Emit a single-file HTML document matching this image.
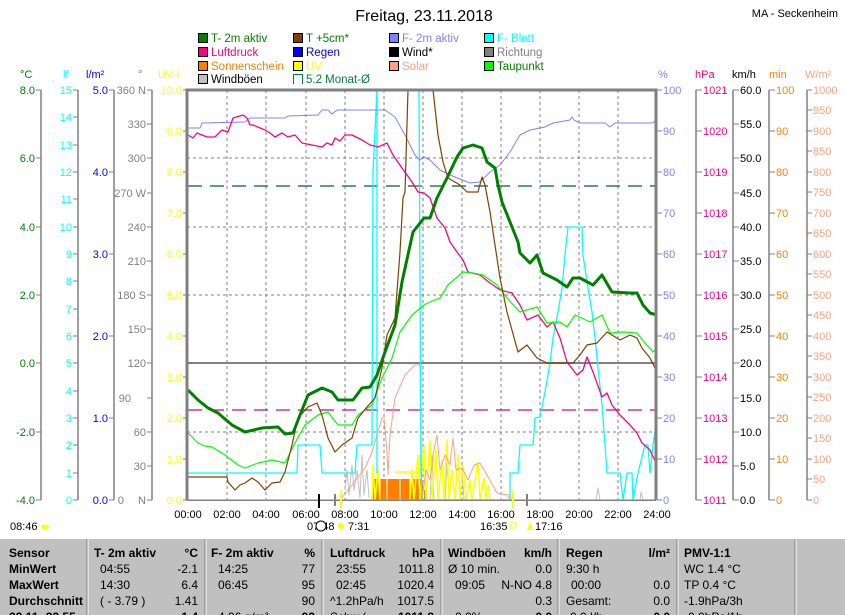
<!DOCTYPE html>
<html><head><meta charset="utf-8"><style>
html,body{margin:0;padding:0;background:#fff;width:845px;height:615px;overflow:hidden}
svg{display:block;font-family:"Liberation Sans",sans-serif}
</style></head><body>
<svg width="845" height="615" viewBox="0 0 845 615" xmlns="http://www.w3.org/2000/svg">
<rect width="845" height="615" fill="#fff"/>
<text x="424" y="21" font-size="16" text-anchor="middle" fill="#000">Freitag, 23.11.2018</text>
<text x="838" y="17" font-size="11" text-anchor="end" fill="#000">MA - Seckenheim</text>
<!-- legend -->
<g font-size="11.5">
<rect x="198.5" y="33.5" width="9" height="9" fill="#008000" stroke="#000"/><text x="211" y="42" fill="#008000">T- 2m aktiv</text>
<rect x="293.5" y="33.5" width="9" height="9" fill="#804000" stroke="#000"/><text x="306" y="42" fill="#008000">T +5cm*</text>
<rect x="389.5" y="33.5" width="9" height="9" fill="#8080ff" stroke="#000"/><text x="402" y="42" fill="#8080ff">F- 2m aktiv</text>
<rect x="484.5" y="33.5" width="9" height="9" fill="#00ffff" stroke="#000"/><text x="497" y="42" fill="#00ffff">F- Blatt</text>
<rect x="198.5" y="47.5" width="9" height="9" fill="#ff0080" stroke="#000"/><text x="211" y="56" fill="#ff0080">Luftdruck</text>
<rect x="293.5" y="47.5" width="9" height="9" fill="#0000ff" stroke="#000"/><text x="306" y="56" fill="#0000ff">Regen</text>
<rect x="389.5" y="47.5" width="9" height="9" fill="#000" stroke="#000"/><text x="402" y="56" fill="#000">Wind*</text>
<rect x="484.5" y="47.5" width="9" height="9" fill="#808080" stroke="#000"/><text x="497" y="56" fill="#808080">Richtung</text>
<rect x="198.5" y="61.5" width="9" height="9" fill="#ff8000" stroke="#000"/><text x="211" y="70" fill="#ff8000">Sonnenschein</text>
<rect x="293.5" y="61.5" width="9" height="9" fill="#ffff00" stroke="#000"/><text x="306" y="70" fill="#ffff00">UV</text>
<rect x="389.5" y="61.5" width="9" height="9" fill="#ffa080" stroke="#000"/><text x="402" y="70" fill="#ffa080">Solar</text>
<rect x="484.5" y="61.5" width="9" height="9" fill="#00ff00" stroke="#000"/><text x="497" y="70" fill="#008000">Taupunkt</text>
<rect x="198.5" y="74.5" width="9" height="9" fill="#c0c0c0" stroke="#000"/><text x="211" y="83" fill="#000">Windböen</text>
<path d="M293.5 84 V74.5 H302.5 V84" fill="none" stroke="#008040"/><text x="306" y="83" fill="#008040">5.2 Monat-Ø</text>
</g>
<!-- unit headers -->
<g font-size="11">
<text x="20" y="78" fill="#008000">°C</text>
<text x="63" y="78" fill="#00ffff">lf</text>
<text x="86" y="78" fill="#0000ff">l/m²</text>
<text x="138" y="78" fill="#808080">°</text>
<text x="158" y="78" fill="#ffff00">UV-I</text>
<text x="658" y="78" fill="#8080ff">%</text>
<text x="695" y="78" fill="#ff0080">hPa</text>
<text x="732" y="78" fill="#000">km/h</text>
<text x="769" y="78" fill="#ff8000">min</text>
<text x="805" y="78" fill="#ffa080">W/m²</text>
</g>
<!-- axis lines -->
<g stroke="#808080" stroke-width="1.5">
<line x1="41" y1="90" x2="41" y2="500"/><line x1="78" y1="90" x2="78" y2="500"/>
<line x1="114" y1="90" x2="114" y2="500"/><line x1="152" y1="90" x2="152" y2="500"/>
<line x1="696" y1="90" x2="696" y2="500"/><line x1="733" y1="90" x2="733" y2="500"/>
<line x1="769" y1="90" x2="769" y2="500"/><line x1="807" y1="90" x2="807" y2="500"/>
</g>
<g font-size="11">
<!-- °C -->
<g fill="#008000" text-anchor="end">
<text x="35" y="94">8.0</text><text x="35" y="162">6.0</text><text x="35" y="231">4.0</text><text x="35" y="299">2.0</text><text x="35" y="367">0.0</text><text x="35" y="436">-2.0</text><text x="35" y="504">-4.0</text></g>
<path stroke="#808080" d="M36 90H41M36 158H41M36 227H41M36 295H41M36 363H41M36 432H41M36 500H41"/>
<!-- lf -->
<g fill="#00ffff" text-anchor="end">
<text x="72" y="94">15</text><text x="72" y="121">14</text><text x="72" y="149">13</text><text x="72" y="176">12</text><text x="72" y="203">11</text><text x="72" y="231">10</text><text x="72" y="258">9</text><text x="72" y="285">8</text><text x="72" y="313">7</text><text x="72" y="340">6</text><text x="72" y="367">5</text><text x="72" y="395">4</text><text x="72" y="422">3</text><text x="72" y="449">2</text><text x="72" y="477">1</text><text x="72" y="504">0</text></g>
<path stroke="#808080" d="M73 90H78M73 117H78M73 145H78M73 172H78M73 199H78M73 227H78M73 254H78M73 281H78M73 309H78M73 336H78M73 363H78M73 391H78M73 418H78M73 445H78M73 473H78M73 500H78"/>
<!-- l/m2 -->
<g fill="#0000ff" text-anchor="end">
<text x="108" y="94">5.0</text><text x="108" y="176">4.0</text><text x="108" y="258">3.0</text><text x="108" y="340">2.0</text><text x="108" y="422">1.0</text><text x="108" y="504">0.0</text></g>
<path stroke="#808080" d="M109 90H114M109 172H114M109 254H114M109 336H114M109 418H114M109 500H114"/>
<!-- degrees -->
<g fill="#808080" text-anchor="end">
<text x="146" y="94">360 N</text><text x="146" y="128">330</text><text x="146" y="162">300</text><text x="146" y="197">270 W</text><text x="146" y="231">240</text><text x="146" y="265">210</text><text x="146" y="299">180 S</text><text x="146" y="333">150</text><text x="146" y="367">120</text><text x="131" y="402">90</text><text x="146" y="436">60</text><text x="146" y="470">30</text><text x="124" y="504">0</text><text x="146" y="504">N</text></g>
<path stroke="#808080" d="M147 90H152M147 124H152M147 158H152M147 193H152M147 227H152M147 261H152M147 295H152M147 329H152M147 363H152M147 398H152M147 432H152M147 466H152M147 500H152"/>
<!-- UV -->
<g fill="#ffff00" text-anchor="end">
<text x="182" y="94">10.0</text><text x="182" y="135">9.0</text><text x="182" y="176">8.0</text><text x="182" y="217">7.0</text><text x="182" y="258">6.0</text><text x="182" y="299">5.0</text><text x="182" y="340">4.0</text><text x="182" y="381">3.0</text><text x="182" y="422">2.0</text><text x="182" y="463">1.0</text><text x="182" y="504">0.0</text></g>
<path stroke="#808080" d="M183 90H187M183 131H187M183 172H187M183 213H187M183 254H187M183 295H187M183 336H187M183 377H187M183 418H187M183 459H187M183 500H187"/>
<!-- % -->
<g fill="#8080ff">
<text x="663" y="94">100</text><text x="663" y="135">90</text><text x="663" y="176">80</text><text x="663" y="217">70</text><text x="663" y="258">60</text><text x="663" y="299">50</text><text x="663" y="340">40</text><text x="663" y="381">30</text><text x="663" y="422">20</text><text x="663" y="463">10</text><text x="663" y="504">0</text></g>
<path stroke="#808080" d="M657 90H662M657 131H662M657 172H662M657 213H662M657 254H662M657 295H662M657 336H662M657 377H662M657 418H662M657 459H662M657 500H662"/>
<!-- hPa -->
<g fill="#ff0080">
<text x="703" y="94">1021</text><text x="703" y="135">1020</text><text x="703" y="176">1019</text><text x="703" y="217">1018</text><text x="703" y="258">1017</text><text x="703" y="299">1016</text><text x="703" y="340">1015</text><text x="703" y="381">1014</text><text x="703" y="422">1013</text><text x="703" y="463">1012</text><text x="703" y="504">1011</text></g>
<path stroke="#808080" d="M696 90H702M696 131H702M696 172H702M696 213H702M696 254H702M696 295H702M696 336H702M696 377H702M696 418H702M696 459H702M696 500H702"/>
<!-- km/h -->
<g fill="#000">
<text x="740" y="94">60.0</text><text x="740" y="128">55.0</text><text x="740" y="162">50.0</text><text x="740" y="197">45.0</text><text x="740" y="231">40.0</text><text x="740" y="265">35.0</text><text x="740" y="299">30.0</text><text x="740" y="333">25.0</text><text x="740" y="367">20.0</text><text x="740" y="402">15.0</text><text x="740" y="436">10.0</text><text x="740" y="470">5.0</text><text x="740" y="504">0.0</text></g>
<path stroke="#808080" d="M733 90H739M733 124H739M733 158H739M733 193H739M733 227H739M733 261H739M733 295H739M733 329H739M733 363H739M733 398H739M733 432H739M733 466H739M733 500H739"/>
<!-- min -->
<g fill="#ff8000">
<text x="776" y="94">100</text><text x="776" y="135">90</text><text x="776" y="176">80</text><text x="776" y="217">70</text><text x="776" y="258">60</text><text x="776" y="299">50</text><text x="776" y="340">40</text><text x="776" y="381">30</text><text x="776" y="422">20</text><text x="776" y="463">10</text><text x="776" y="504">0</text></g>
<path stroke="#808080" d="M769 90H775M769 131H775M769 172H775M769 213H775M769 254H775M769 295H775M769 336H775M769 377H775M769 418H775M769 459H775M769 500H775"/>
<!-- W/m2 -->
<g fill="#ffa080">
<text x="813" y="94">1000</text><text x="813" y="114">950</text><text x="813" y="135">900</text><text x="813" y="155">850</text><text x="813" y="176">800</text><text x="813" y="196">750</text><text x="813" y="217">700</text><text x="813" y="237">650</text><text x="813" y="258">600</text><text x="813" y="278">550</text><text x="813" y="299">500</text><text x="813" y="319">450</text><text x="813" y="340">400</text><text x="813" y="360">350</text><text x="813" y="381">300</text><text x="813" y="401">250</text><text x="813" y="422">200</text><text x="813" y="442">150</text><text x="813" y="463">100</text><text x="813" y="483">50</text><text x="813" y="504">0</text></g>
<path stroke="#808080" d="M807 90H812M807 110H812M807 131H812M807 151H812M807 172H812M807 192H812M807 213H812M807 233H812M807 254H812M807 274H812M807 295H812M807 315H812M807 336H812M807 356H812M807 377H812M807 397H812M807 418H812M807 438H812M807 459H812M807 479H812M807 500H812"/>
</g>
<!-- grid -->
<g stroke="#808080" stroke-dasharray="3,3" stroke-width="1">
<path d="M227 90V500M266 90V500M306 90V500M345 90V500M384 90V500M423 90V500M462 90V500M501 90V500M540 90V500M579 90V500M618 90V500"/>
<path d="M187 158H656M187 227H656M187 295H656M187 432H656"/>
</g>
<line x1="187" y1="363" x2="656" y2="363" stroke="#808080" stroke-width="2"/>
<line x1="188" y1="186" x2="656" y2="186" stroke="#006030" stroke-width="1.3" stroke-dasharray="14,8"/>
<line x1="188" y1="410" x2="656" y2="410" stroke="#e0007f" stroke-width="1.3" stroke-dasharray="14,8"/>
<!-- series -->
<g fill="none" stroke-linejoin="round">
<!-- sonnenschein -->
<rect x="372" y="479" width="50" height="21" fill="#ff8000" stroke="none"/>
<path d="M387 479V500M380 479V500M400 479V500M410 479V500" stroke="#fff" stroke-width="1"/>
<path d="M422 483V500M425 490V500" stroke="#ff8000" stroke-width="2"/>
<!-- wind gusts -->
<path d="M345 490L347 470L349 495L352 465L354 490L357 470L360 498L362 455L364 495L367 470L369 498M410 500L412 470L414 500M430 500L432 455L434 500M445 500L447 462L449 500M460 500L462 470L464 500M596 500L598 488L600 500M640 500L641 492L643 500" stroke="#c0c0c0"/>
<!-- UV -->
<path d="M341 490V505M372 500L373 465L375 500L378 470L380 500M395 472H420M410 500L412 470L414 500L418 455L420 500L424 445L426 500L430 440L432 500L436 450L438 500L442 460L444 500L447 440L449 500L452 470L455 500L458 455L460 500L463 465L466 500L470 480L472 500L478 462L480 500L484 478L486 500L488 485L490 500M513 490V505" stroke="#ffff00" stroke-width="1.5"/>
<!-- solar -->
<polyline stroke="#ffa080" points="340,500 352,485 365,468 372,452 377,435 382,418 384,418 387,452 388,475 390,435 395,398 405,375 415,365 420,365 422,500 426,470 430,480 434,450 437,435 440,470 445,455 450,465 453,438 456,470 462,468 468,480 474,465 480,463 487,475 497,493 508,495 510,500"/>
<!-- F-Blatt -->
<polyline stroke="#00ffff" stroke-width="1.3" points="188,473 297,473 298,445 320,445 322,473 355,473 357,445 372,445 373,172 377,90 392,90 394,90 408,90 419,90 421,473 422,500 510,500 510,473 518,473 520,445 533,445 535,418 540,417 545,392 550,363 553,338 558,312 562,288 565,255 568,227 582,227 583,255 588,288 592,312 595,338 598,368 602,405 605,445 607,473 620,473 623,500 627,473 632,473 633,500 638,473 645,445 648,445 650,473 653,445 657,418"/>
<line x1="377" y1="90" x2="377" y2="473" stroke="#00ffff" stroke-width="1.3"/>
<!-- F-2m -->
<polyline stroke="#8080ff" points="188,128 200,128 202,123 245,122 250,118 285,118 288,116 318,115 322,110 328,110 332,114 337,110 385,110 395,117 405,135 415,155 420,160 424,157 430,160 440,170 450,175 470,183 480,182 490,172 500,165 510,152 520,135 530,130 545,127 553,123 570,120 572,117 574,120 580,123 605,123 610,127 615,123 653,123 657,118"/>
<!-- Luftdruck -->
<polyline stroke="#ff0080" stroke-width="1.3" points="188,135 193,138 197,133 202,135 207,137 215,137 222,130 228,132 233,118 243,115 247,118 250,125 253,125 265,130 270,133 275,137 282,133 288,137 295,135 302,143 322,147 327,143 332,145 335,138 340,141 345,135 352,135 356,137 362,140 370,145 378,147 387,143 393,155 402,168 412,182 418,192 424,193 430,198 437,218 445,228 450,242 457,252 463,260 468,272 480,275 490,283 500,290 512,293 520,305 527,320 538,315 547,327 553,322 560,338 567,362 577,375 583,370 587,357 593,372 602,397 607,393 612,405 620,415 630,425 637,433 642,443 650,450 657,465"/>
<!-- Taupunkt -->
<polyline stroke="#00ff00" stroke-width="1.2" points="188,433 198,443 205,446 212,447 225,455 238,465 245,468 258,463 272,460 285,463 295,443 305,425 318,415 328,412 338,425 352,425 358,415 372,405 382,378 392,358 400,332 412,315 424,305 430,302 440,298 448,285 463,272 473,273 483,275 497,285 507,298 520,312 537,307 547,323 560,322 567,327 575,315 590,322 602,315 610,333 623,332 637,333 645,343 653,352 657,348"/>
<!-- T+5cm -->
<polyline stroke="#804000" stroke-width="1.2" points="188,477 227,477 228,482 235,490 240,485 245,483 252,478 258,482 265,490 272,483 280,482 285,472 292,445 298,418 308,407 317,403 322,415 328,438 335,452 342,445 352,438 358,418 367,407 375,398 382,368 387,335 395,318 400,252 403,198 405,192 408,90 433,90 438,135 443,162 448,178 460,185 467,192 478,192 482,177 485,185 490,212 500,278 507,312 518,352 527,345 537,358 547,363 573,363 580,355 587,345 597,343 607,332 620,340 630,335 637,338 642,348 650,358 657,372"/>
<!-- T-2m -->
<polyline stroke="#008000" stroke-width="3" points="188,390 198,400 208,408 218,413 232,425 245,432 262,428 278,427 285,434 293,433 300,415 308,395 322,388 332,392 338,400 353,400 362,388 370,387 377,375 385,352 395,325 402,282 413,232 424,218 430,218 437,198 447,178 457,157 463,148 473,145 482,148 487,162 495,168 498,185 502,202 510,222 518,242 520,253 530,263 537,255 543,273 557,280 567,287 573,278 580,278 593,285 602,275 612,292 630,293 637,293 643,305 650,313 657,315"/>
</g>
<line x1="188" y1="500" x2="656" y2="500" stroke="#ff8000" stroke-width="1.2"/>
<!-- frame -->
<path d="M187 500V90H656V500" fill="none" stroke="#808080" stroke-width="3"/>
<line x1="187" y1="500.5" x2="656" y2="500.5" stroke="#808080" stroke-width="1"/>
<!-- markers -->
<path d="M319 494V508" stroke="#000" stroke-width="2"/>
<path d="M335 494V506M527 494V506" stroke="#808080" stroke-width="2"/>
<path d="M341 494V508M513 494V508" stroke="#ffff00" stroke-width="2"/>
<!-- time labels -->
<g font-size="11" fill="#000" text-anchor="middle">
<text x="188" y="518">00:00</text><text x="227" y="518">02:00</text><text x="266" y="518">04:00</text><text x="306" y="518">06:00</text><text x="345" y="518">08:00</text><text x="384" y="518">10:00</text><text x="423" y="518">12:00</text><text x="462" y="518">14:00</text><text x="501" y="518">16:00</text><text x="540" y="518">18:00</text><text x="579" y="518">20:00</text><text x="618" y="518">22:00</text><text x="657" y="518">24:00</text>
</g>
<g font-size="11" fill="#000">
<text x="10" y="530">08:46</text><ellipse cx="45" cy="527" rx="4" ry="2.5" fill="#ffff00"/>
<text x="307" y="530">07:48</text><circle cx="321" cy="526" r="5" fill="#fff" stroke="#000"/><circle cx="341" cy="526" r="3" fill="#ffff00"/><text x="348" y="530">7:31</text>
<text x="480" y="530">16:35</text><rect x="510" y="522" width="6" height="6" fill="none" stroke="#ffff00"/><path d="M527 530L530 522L533 530Z" fill="#ffff00"/><text x="535" y="530">17:16</text>
</g>
<!-- table -->
<rect x="0" y="538" width="845" height="77" fill="#c0c0c0"/>
<line x1="0" y1="538.5" x2="845" y2="538.5" stroke="#fff"/>
<g stroke="#fff"><path d="M88 539V615M206 539V615M323 539V615M442 539V615M559 539V615M678 539V615M796 539V615"/></g>
<g stroke="#808080"><path d="M87 539V615M205 539V615M322 539V615M441 539V615M558 539V615M677 539V615M795 539V615"/></g>
<g font-size="12" fill="#000">
<g font-weight="bold">
<text x="9" y="557">Sensor</text><text x="9" y="573">MinWert</text><text x="9" y="589">MaxWert</text><text x="9" y="605">Durchschnitt</text><text x="9" y="621">23.11.-22.55</text>
<text x="94" y="557">T- 2m aktiv</text><text x="198" y="557" text-anchor="end">°C</text>
<text x="211" y="557">F- 2m aktiv</text><text x="315" y="557" text-anchor="end">%</text>
<text x="330" y="557">Luftdruck</text><text x="434" y="557" text-anchor="end">hPa</text>
<text x="448" y="557">Windböen</text><text x="552" y="557" text-anchor="end">km/h</text>
<text x="566" y="557">Regen</text><text x="670" y="557" text-anchor="end">l/m²</text>
<text x="684" y="557">PMV-1:1</text>
<text x="198" y="621" text-anchor="end">1.4</text><text x="315" y="621" text-anchor="end">93</text><text x="434" y="621" text-anchor="end">1011.8</text><text x="552" y="621" text-anchor="end">0.0</text><text x="670" y="621" text-anchor="end">0.0</text>
</g>
<text x="100" y="573">04:55</text><text x="198" y="573" text-anchor="end">-2.1</text>
<text x="100" y="589">14:30</text><text x="198" y="589" text-anchor="end">6.4</text>
<text x="100" y="605">( - 3.79 )</text><text x="198" y="605" text-anchor="end">1.41</text>
<text x="218" y="573">14:25</text><text x="315" y="573" text-anchor="end">77</text>
<text x="218" y="589">06:45</text><text x="315" y="589" text-anchor="end">95</text>
<text x="315" y="605" text-anchor="end">90</text><text x="218" y="621">4.96 g/m³</text>
<text x="336" y="573">23:55</text><text x="434" y="573" text-anchor="end">1011.8</text>
<text x="336" y="589">02:45</text><text x="434" y="589" text-anchor="end">1020.4</text>
<text x="330" y="605">^1.2hPa/h</text><text x="434" y="605" text-anchor="end">1017.5</text><text x="330" y="621">Schw.(..</text>
<text x="448" y="573">Ø 10 min.</text><text x="552" y="573" text-anchor="end">0.0</text>
<text x="455" y="589">09:05</text><text x="552" y="589" text-anchor="end">N-NO 4.8</text>
<text x="552" y="605" text-anchor="end">0.3</text><text x="455" y="621">0.0%</text>
<text x="566" y="573">9:30 h</text>
<text x="571" y="589">00:00</text><text x="670" y="589" text-anchor="end">0.0</text>
<text x="566" y="605">Gesamt:</text><text x="670" y="605" text-anchor="end">0.0</text><text x="566" y="621">-0.0 l/h</text>
<text x="684" y="573">WC 1.4 °C</text><text x="684" y="589">TP 0.4 °C</text><text x="684" y="605">-1.9hPa/3h</text><text x="684" y="621">-0.0hPa/1h</text>
</g>
</svg>
</body></html>
